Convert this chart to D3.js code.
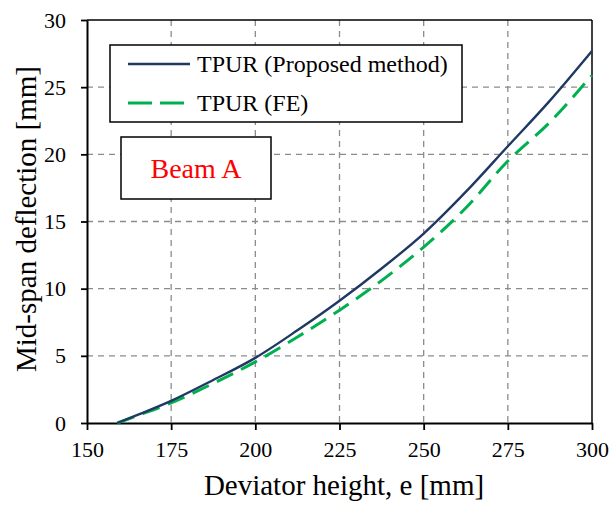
<!DOCTYPE html>
<html><head><meta charset="utf-8">
<script src="https://cdn.jsdelivr.net/npm/d3@7"></script>
<style>body{margin:0;background:#fff}svg{display:block}</style>
</head><body>
<svg id="c" width="611" height="506"></svg>
<script>
const eVals = [159, 165, 175, 187.5, 200, 212.5, 225, 237.5, 250, 262.5, 275, 287.5, 300];
const proposed = [0, 0.6, 1.65, 3.2, 4.85, 6.9, 9.1, 11.5, 14.1, 17.2, 20.6, 24.0, 27.7];
const fe = [0, 0.55, 1.5, 2.95, 4.55, 6.4, 8.4, 10.6, 13.1, 16.0, 19.5, 22.4, 25.9];
const xTicks = [150, 175, 200, 225, 250, 275, 300];
const yTicks = [0, 5, 10, 15, 20, 25, 30];
const seriesNames = ["TPUR (Proposed method)", "TPUR (FE)"];
const label = "Beam A";

const FF = '"Liberation Serif", "Times New Roman", serif';
const svg = d3.select("#c");
const L = 87, R = 592, T = 20, B = 423;
const x = d3.scaleLinear().domain([150, 300]).range([L, R]);
const y = d3.scaleLinear().domain([0, 30]).range([B, T]);

// grid
const g = svg.append("g");
g.selectAll(".vg").data(xTicks.slice(1, -1)).join("line")
  .attr("x1", d => x(d)).attr("x2", d => x(d)).attr("y1", T).attr("y2", B)
  .attr("stroke", "#8c8c8c").attr("stroke-width", 1.3).attr("stroke-dasharray", "6,5");
g.selectAll(".hg").data(yTicks.slice(1, -1)).join("line")
  .attr("x1", L).attr("x2", R).attr("y1", d => y(d)).attr("y2", d => y(d))
  .attr("stroke", "#8c8c8c").attr("stroke-width", 1.3).attr("stroke-dasharray", "6,5");

// border top/right
svg.append("line").attr("x1", L).attr("x2", R).attr("y1", T).attr("y2", T).attr("stroke", "#000").attr("stroke-width", 1.5);
svg.append("line").attr("x1", R).attr("x2", R).attr("y1", T).attr("y2", B).attr("stroke", "#000").attr("stroke-width", 1.5);

// axes
const xa = svg.append("g").attr("transform", `translate(0,${B})`)
  .call(d3.axisBottom(x).tickValues(xTicks).tickSize(7).tickSizeOuter(0).tickPadding(11));
const ya = svg.append("g").attr("transform", `translate(${L},0)`)
  .call(d3.axisLeft(y).tickValues(yTicks).tickSize(6).tickSizeOuter(0).tickPadding(15));
[xa, ya].forEach(a => {
  a.attr("font-family", null);
  a.select(".domain").attr("stroke", "#000").attr("stroke-width", 2);
  a.selectAll(".tick line").attr("stroke", "#000").attr("stroke-width", 1.8);
  a.selectAll("text").style("font-family", FF).attr("font-size", 22).attr("fill", "#000");
});

// lines
const line = d3.line().x((d, i) => x(eVals[i])).y(d => y(d)).curve(d3.curveMonotoneX);
svg.append("path").datum(fe).attr("d", line).attr("fill", "none")
  .attr("stroke", "#00b050").attr("stroke-width", 3).attr("stroke-dasharray", "18,9");
svg.append("path").datum(proposed).attr("d", line).attr("fill", "none")
  .attr("stroke", "#1f3864").attr("stroke-width", 2.4);

// legend
svg.append("rect").attr("x", 110).attr("y", 45).attr("width", 352).attr("height", 77)
  .attr("fill", "#fff").attr("stroke", "#000").attr("stroke-width", 1.5);
svg.append("line").attr("x1", 128).attr("x2", 190).attr("y1", 64).attr("y2", 64)
  .attr("stroke", "#1f3864").attr("stroke-width", 2.4);
svg.append("line").attr("x1", 128).attr("x2", 190).attr("y1", 103).attr("y2", 103)
  .attr("stroke", "#00b050").attr("stroke-width", 3).attr("stroke-dasharray", "24,8");
svg.append("text").attr("x", 197).attr("y", 72).text(seriesNames[0])
  .style("font-family", FF).attr("font-size", 24);
svg.append("text").attr("x", 197).attr("y", 111).text(seriesNames[1])
  .style("font-family", FF).attr("font-size", 24);

// Beam A box
svg.append("rect").attr("x", 121).attr("y", 137).attr("width", 150).attr("height", 62)
  .attr("fill", "#fff").attr("stroke", "#000").attr("stroke-width", 1.5);
svg.append("text").attr("x", 196).attr("y", 178).attr("text-anchor", "middle").text(label)
  .style("font-family", FF).attr("font-size", 28).attr("fill", "#ff0000");

// titles
svg.append("text").attr("x", 344).attr("y", 495).attr("text-anchor", "middle")
  .text("Deviator height, e [mm]").style("font-family", FF).attr("font-size", 29);
svg.append("text").attr("transform", `translate(36,372) rotate(-90)`).attr("text-anchor", "start")
  .text("Mid-span deflection [mm]").style("font-family", FF).attr("font-size", 29);
</script>
</body></html>
